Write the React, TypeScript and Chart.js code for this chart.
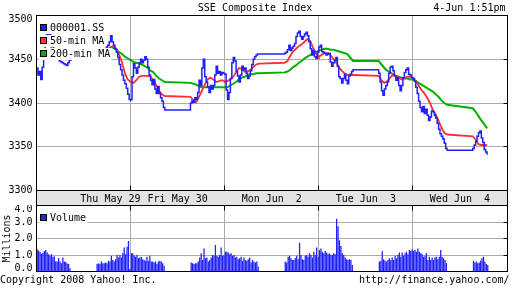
import React, { useEffect, useRef } from 'react';
import { Chart, registerables } from 'chart.js';

Chart.register(...registerables);

// ---------------- data ----------------
const chartTitle = 'SSE Composite Index';
const stampText = '4-Jun 1:51pm';
const copyrightText = 'Copyright 2008 Yahoo! Inc.';
const sourceText = 'http://finance.yahoo.com/';
const seriesName = '000001.SS';
const ma50Name = '50-min MA';
const ma200Name = '200-min MA';
const volumeName = 'Volume';
const volumeAxisTitle = 'Millions';

const dayLabels = ['Thu May 29', 'Fri May 30', 'Mon Jun  2', 'Tue Jun  3', 'Wed Jun  4'];
// hours since Thu 9:30 (each trading day = 9:30..15:00 = 5.5 h, lunch 11:30-13:00 kept)
const dayLabelHours = [4.32, 8.25, 13.75, 19.25, 24.75];
const dayBoundaryHours = [0, 5.5, 11, 16.5, 22, 27.5];
const priceTicks = [3300, 3350, 3400, 3450, 3500];
const volumeTicks = [0, 1, 2, 3, 4];

// 5-minute index level: 9:30..11:30 (25) then 13:00..15:00 (25)
const priceThu = [
  3440, 3432, 3436, 3427, 3441, 3458, 3472, 3480, 3478, 3481, 3474, 3466, 3460, 3455, 3452, 3450, 3448, 3447, 3446, 3445, 3444, 3443, 3446, 3449, 3451,
  3451, 3452, 3455, 3453, 3458, 3461, 3459, 3464, 3466, 3470, 3477, 3470, 3466, 3462, 3458, 3452, 3444, 3438, 3432, 3426, 3422, 3417, 3410, 3404, 3402,
];
const priceFri = [
  3404, 3430, 3445, 3440, 3434, 3441, 3446, 3450, 3446, 3449, 3453, 3450, 3441, 3432, 3426, 3421, 3427, 3416, 3411, 3419, 3411, 3406, 3402, 3395, 3392,
  3400, 3403, 3401, 3406, 3404, 3412, 3426, 3420, 3440, 3450, 3430, 3424, 3418, 3412, 3420, 3416, 3420, 3432, 3442, 3434, 3436, 3432, 3435, 3434, 3434,
];
const priceMon = [
  3433, 3415, 3404, 3412, 3428, 3446, 3452, 3448, 3436, 3431, 3424, 3432, 3442, 3438, 3440, 3434, 3428, 3431, 3437, 3444, 3450, 3453, 3455, 3456, 3456,
  3457, 3458, 3461, 3466, 3460, 3463, 3465, 3468, 3476, 3480, 3482, 3476, 3473, 3476, 3479, 3481, 3477, 3470, 3462, 3455, 3460, 3453, 3451, 3458, 3463,
];
const priceTue = [
  3464, 3466, 3459, 3458, 3457, 3455, 3456, 3457, 3447, 3442, 3446, 3449, 3452, 3442, 3430, 3428, 3423, 3428, 3433, 3426, 3422, 3431, 3433, 3436, 3438,
  3434, 3424, 3414, 3409, 3416, 3420, 3424, 3434, 3441, 3442, 3437, 3431, 3426, 3429, 3420, 3414, 3420, 3429, 3435, 3438, 3440, 3433, 3432, 3429, 3428,
];
const priceWed = [
  3428, 3425, 3418, 3411, 3402, 3395, 3390, 3396, 3388, 3393, 3386, 3380, 3384, 3391, 3390, 3386, 3383, 3377, 3370, 3365, 3362, 3359, 3354, 3348, 3346,
  3348, 3352, 3356, 3362, 3366, 3368, 3360, 3355, 3347, 3344, 3341,
];

// 10-minute moving averages: 9:30..11:30 (13) then 13:00..15:00 (13)
const ma50Thu = [
  null, null, null, null, null, 3465, 3460, 3455, 3452, 3451, 3450, 3450, 3451,
  3451, 3452, 3455, 3458, 3461, 3464, 3465, 3462, 3455, 3446, 3434, 3427, 3424,
];
const ma50Fri = [
  3424, 3423, 3426, 3430, 3431, 3431, 3431, 3430, 3426, 3420, 3414, 3410, 3408,
  3407, 3403, 3401, 3407, 3414, 3421, 3427, 3429, 3427, 3424, 3425, 3426, 3425,
];
const ma50Mon = [
  3424, 3425, 3427, 3430, 3435, 3440, 3439, 3436, 3436, 3438, 3441, 3444, 3445,
  3446, 3448, 3454, 3459, 3462, 3465, 3467, 3470, 3473, 3471, 3463, 3457, 3452,
];
const ma50Tue = [
  3453, 3455, 3457, 3457, 3455, 3451, 3447, 3441, 3437, 3434, 3432, 3432, 3432,
  3431, 3426, 3423, 3425, 3429, 3432, 3431, 3430, 3427, 3428, 3430, 3430, 3429,
];
const ma50Wed = [
  3429, 3425, 3420, 3415, 3411, 3406, 3400, 3392, 3387, 3380, 3372, 3366, 3364,
  3362, 3358, 3353, 3352, 3352, 3352,
];

const ma200Thu = [
  null, null, null, null, null, null, null, null, null, null, null, null, null,
  null, null, null, null, null, 3464, 3463, 3461, 3458, 3456, 3453, 3451, 3449,
];
const ma200Fri = [
  3449, 3447, 3446, 3445, 3444, 3442, 3440, 3437, 3435, 3431, 3428, 3426, 3424,
  3423, 3422, 3421, 3419, 3418, 3418, 3418, 3418, 3418, 3418, 3418, 3418, 3418,
];
const ma200Mon = [
  3418, 3418, 3420, 3422, 3424, 3427, 3429, 3430, 3432, 3433, 3433, 3434, 3434,
  3435, 3436, 3438, 3441, 3443, 3446, 3448, 3451, 3453, 3455, 3456, 3458, 3460,
];
const ma200Tue = [
  3460, 3461, 3462, 3462, 3461, 3461, 3460, 3459, 3458, 3457, 3456, 3452, 3448,
  3448, 3444, 3440, 3437, 3435, 3433, 3431, 3430, 3429, 3428, 3428, 3427, 3427,
];
const ma200Wed = [
  3427, 3425, 3423, 3421, 3419, 3417, 3415, 3413, 3410, 3407, 3403, 3400, 3398,
  3394, 3390, 3385, 3380, 3376, 3371,
];

// 5-minute volume (millions): 24 morning bars, 24 afternoon bars
const volThu = [
  1.35, 1.28, 1.18, 1.08, 1.12, 1.25, 1.3, 1.15, 1.05, 0.95, 1.05, 0.88, 0.92, 0.62, 0.6, 0.82, 0.6, 0.5, 0.85, 0.6, 0.58, 0.48, 0.45, 0.2,
  0.45, 0.5, 0.45, 0.6, 0.5, 0.5, 0.55, 0.5, 0.65, 0.6, 0.95, 0.7, 0.6, 0.75, 1.0, 0.85, 1.0, 0.85, 1.1, 1.45, 1.05, 1.5, 1.85, 0.15,
];
const volFri = [
  1.1, 1.1, 0.95, 0.9, 1.0, 0.8, 0.85, 0.9, 0.75, 0.7, 0.65, 0.9, 0.65, 0.95, 0.6, 0.6, 0.55, 0.6, 0.45, 0.6, 0.65, 0.6, 0.5, 0.35,
  0.55, 0.5, 0.45, 0.5, 0.5, 0.6, 0.85, 1.1, 0.7, 1.4, 0.8, 0.85, 0.6, 0.7, 0.85, 1.0, 0.95, 1.6, 0.95, 0.9, 1.0, 1.45, 0.95, 1.0,
];
const volMon = [
  1.2, 1.2, 1.15, 1.05, 1.1, 0.95, 1.0, 0.85, 0.9, 0.75, 0.8, 0.9, 0.65, 0.85, 0.7, 0.65, 0.75, 0.85, 0.55, 0.7, 0.6, 0.55, 0.6, 0.3,
  0.6, 0.55, 0.9, 0.95, 0.8, 0.7, 0.7, 0.8, 0.95, 0.75, 1.75, 1.0, 0.75, 0.7, 0.95, 1.0, 0.9, 1.1, 1.0, 0.85, 1.2, 1.0, 1.45, 0.9,
];
const volTue = [
  1.3, 1.4, 1.2, 1.1, 1.25, 1.15, 1.05, 1.1, 1.0, 1.0, 1.1, 1.05, 3.2, 2.75, 1.9, 1.55, 1.1, 1.0, 0.85, 0.75, 0.7, 0.75, 0.7, 0.4,
  0.6, 0.65, 1.25, 0.75, 0.65, 0.6, 0.7, 0.8, 0.7, 0.85, 0.7, 0.95, 0.8, 1.0, 1.15, 0.9, 1.15, 0.95, 1.1, 1.2, 1.05, 1.3, 1.25, 1.35,
];
const volWed = [
  1.25, 1.3, 1.2, 1.4, 1.2, 1.1, 1.05, 0.9, 0.95, 1.1, 0.7, 0.9, 0.7, 0.85, 0.7, 0.85, 0.9, 0.75, 0.9, 1.3, 0.9, 0.8, 0.7, 0.5,
  0.65, 0.55, 0.6, 0.5, 0.55, 0.65, 0.8, 0.9, 0.6, 0.45, 0.4,
];

// ---------------- helpers ----------------
const DAY_HOURS = 5.5; // 9:30 -> 15:00
const PM_START = 3.5; // 13:00 - 9:30

function toPoints(days: (number | null)[][], stepMinutes: number, amCount: number, shift = 0) {
  const out: { x: number; y: number | null }[] = [];
  days.forEach((vals, d) => {
    vals.forEach((v, j) => {
      const pm = j >= amCount;
      const k = pm ? j - amCount : j;
      out.push({ x: d * DAY_HOURS + (pm ? PM_START : 0) + ((k + shift) * stepMinutes) / 60, y: v });
    });
  });
  return out;
}

const BLUE = '#2020ff';
const RED = '#ff3030';
const GREEN = '#00b000';
const GRID = '#ababab';
const BAND = '#e3e3e3';
const MONO = '"DejaVu Sans Mono", monospace';
const FONT = '10px ' + MONO;

const align = (p: number) => Math.round(p - 0.5) + 0.5;

function framePlugin(tickSide: 'top' | 'bottom') {
  return {
    id: 'frame' + tickSide,
    afterDraw(chart: any) {
      const { ctx, chartArea: a, scales } = chart;
      const l = align(a.left), r = align(a.right), t = align(a.top), b = align(a.bottom);
      ctx.save();
      ctx.strokeStyle = '#000';
      ctx.lineWidth = 1;
      ctx.strokeRect(l, t, r - l, b - t);
      ctx.beginPath();
      for (const h of dayBoundaryHours) {
        const px = align(scales.x.getPixelForValue(h));
        if (tickSide === 'bottom') {
          ctx.moveTo(px, b);
          ctx.lineTo(px, b - 5);
        } else {
          ctx.moveTo(px, t);
          ctx.lineTo(px, t + 5);
        }
      }
      for (const tk of scales.y.ticks) {
        const py = align(scales.y.getPixelForValue(tk.value));
        ctx.moveTo(r - 4, py);
        ctx.lineTo(r, py);
      }
      ctx.stroke();
      ctx.restore();
    },
  };
}

const bandPlugin = {
  id: 'dateBand',
  beforeDraw(chart: any) {
    const { ctx, chartArea: a } = chart;
    const l = align(a.left), r = align(a.right), b = align(a.bottom);
    ctx.save();
    ctx.fillStyle = BAND;
    ctx.fillRect(l, b, r - l, chart.height - b);
    ctx.strokeStyle = '#000';
    ctx.lineWidth = 1;
    ctx.beginPath();
    ctx.moveTo(l, b);
    ctx.lineTo(l, chart.height);
    ctx.moveTo(r, b);
    ctx.lineTo(r, chart.height);
    ctx.stroke();
    ctx.restore();
  },
};

function legendPlugin(items: { label: string; color: string }[], firstY: number, stepY: number) {
  return {
    id: 'boxLegend',
    afterDatasetsDraw(chart: any) {
      const { ctx, chartArea: a } = chart;
      ctx.save();
      ctx.font = FONT;
      ctx.textBaseline = 'middle';
      ctx.textAlign = 'left';
      items.forEach((it, i) => {
        const cy = Math.round(a.top + firstY + i * stepY);
        const bx = Math.round(a.left + 3.5);
        const tx = bx + 10;
        const w = ctx.measureText(it.label).width;
        ctx.fillStyle = '#fff';
        ctx.fillRect(bx - 1, cy - 6, tx + w + 1 - (bx - 1), 12);
        ctx.fillStyle = '#000';
        ctx.fillRect(bx, cy - 4, 7, 7);
        ctx.fillStyle = it.color;
        ctx.fillRect(bx + 1, cy - 3, 5, 5);
        ctx.fillStyle = '#000';
        ctx.fillText(it.label, tx, cy);
      });
      ctx.restore();
    },
  };
}

const headerPlugin = {
  id: 'header',
  afterDraw(chart: any) {
    const { ctx } = chart;
    ctx.save();
    ctx.font = FONT;
    ctx.fillStyle = '#000';
    ctx.textBaseline = 'alphabetic';
    ctx.textAlign = 'center';
    ctx.fillText(chartTitle, 255, 10.5);
    ctx.textAlign = 'right';
    ctx.fillText(stampText, 505.5, 10.5);
    ctx.restore();
  },
};

const footerPlugin = {
  id: 'footer',
  afterDraw(chart: any) {
    const { ctx } = chart;
    ctx.save();
    ctx.font = FONT;
    ctx.fillStyle = '#000';
    ctx.textBaseline = 'alphabetic';
    ctx.textAlign = 'left';
    ctx.fillText(copyrightText, 0, 78);
    ctx.textAlign = 'right';
    ctx.fillText(sourceText, 509.5, 78);
    ctx.restore();
  },
};

const allTicks = [...dayBoundaryHours, ...dayLabelHours];

export default function App() {
  const priceRef = useRef<HTMLCanvasElement | null>(null);
  const volRef = useRef<HTMLCanvasElement | null>(null);

  useEffect(() => {
    const pricePts = toPoints([priceThu, priceFri, priceMon, priceTue, priceWed], 5, 25);
    const ma50Pts = toPoints([ma50Thu, ma50Fri, ma50Mon, ma50Tue, ma50Wed], 10, 13);
    const ma200Pts = toPoints([ma200Thu, ma200Fri, ma200Mon, ma200Tue, ma200Wed], 10, 13);
    const volPts = toPoints([volThu, volFri, volMon, volTue, volWed], 5, 24, 0.5);

    const priceChart = new Chart(priceRef.current as HTMLCanvasElement, {
      type: 'line',
      data: {
        datasets: [
          { label: seriesName, data: pricePts as any, borderColor: BLUE, borderWidth: 1.5, pointRadius: 0, stepped: 'before', fill: false },
          { label: ma50Name, data: ma50Pts as any, borderColor: RED, borderWidth: 1.8, pointRadius: 0, fill: false },
          { label: ma200Name, data: ma200Pts as any, borderColor: GREEN, borderWidth: 2, pointRadius: 0, fill: false },
        ],
      },
      options: {
        animation: false,
        responsive: false,
        devicePixelRatio: 1,
        layout: { padding: { top: 15.5, right: 5, left: 0, bottom: 0 } },
        plugins: { legend: { display: false }, tooltip: { enabled: false }, title: { display: false } },
        elements: { line: { tension: 0 } },
        scales: {
          x: {
            type: 'linear',
            min: 0,
            max: 27.5,
            offset: false,
            afterBuildTicks: (s: any) => {
              s.ticks = allTicks.map((v) => ({ value: v }));
            },
            afterFit: (s: any) => {
              s.height = 14.5;
              s.paddingLeft = 0;
              s.paddingRight = 0;
            },
            grid: {
              color: (c: any) => (dayBoundaryHours.includes(c.tick?.value) ? GRID : 'rgba(0,0,0,0)'),
              lineWidth: 1,
              drawTicks: false,
            },
            border: { display: false },
            ticks: {
              autoSkip: false,
              maxRotation: 0,
              minRotation: 0,
              padding: 3,
              color: '#000',
              font: { family: MONO, size: 10 },
              callback: (v: any) => {
                const i = dayLabelHours.indexOf(Number(v));
                return i >= 0 ? dayLabels[i] : '';
              },
            },
          },
          y: {
            type: 'linear',
            min: 3300,
            max: 3500,
            afterBuildTicks: (s: any) => {
              s.ticks = priceTicks.map((v) => ({ value: v }));
            },
            afterFit: (s: any) => {
              s.width = 36.5;
              s.paddingTop = 0;
              s.paddingBottom = 0;
            },
            grid: { color: GRID, lineWidth: 1, drawTicks: false },
            border: { display: false },
            ticks: {
              autoSkip: false,
              padding: 4,
              color: '#000',
              font: (c: any) => ({ family: MONO, size: 10, lineHeight: c.index === priceTicks.length - 1 ? 0.8 : 1.2 }),
              callback: (v: any, i: number) => (i === priceTicks.length - 1 ? ['', String(v)] : String(v)),
            },
          },
        },
      } as any,
      plugins: [
        bandPlugin,
        legendPlugin(
          [
            { label: seriesName, color: BLUE },
            { label: ma50Name, color: RED },
            { label: ma200Name, color: GREEN },
          ],
          12,
          13.3
        ),
        framePlugin('bottom'),
        headerPlugin,
      ],
    });

    const volChart = new Chart(volRef.current as HTMLCanvasElement, {
      type: 'bar',
      data: {
        datasets: [
          {
            label: volumeName,
            data: volPts as any,
            backgroundColor: BLUE,
            borderWidth: 0,
            barPercentage: 0.9,
            categoryPercentage: 1,
          },
        ],
      },
      options: {
        animation: false,
        responsive: false,
        devicePixelRatio: 1,
        layout: { padding: { top: 0.5, right: 5, left: 0, bottom: 0 } },
        plugins: { legend: { display: false }, tooltip: { enabled: false }, title: { display: false } },
        scales: {
          x: {
            type: 'linear',
            min: 0,
            max: 27.5,
            offset: false,
            afterBuildTicks: (s: any) => {
              s.ticks = dayBoundaryHours.map((v) => ({ value: v }));
            },
            afterFit: (s: any) => {
              s.height = 16.5;
              s.paddingLeft = 0;
              s.paddingRight = 0;
            },
            grid: { color: GRID, lineWidth: 1, drawTicks: false, offset: false },
            border: { display: false },
            ticks: { display: false },
          },
          y: {
            type: 'linear',
            min: 0,
            max: 4,
            afterBuildTicks: (s: any) => {
              s.ticks = volumeTicks.map((v) => ({ value: v }));
            },
            afterFit: (s: any) => {
              s.width = 36.5;
              s.paddingTop = 0;
              s.paddingBottom = 0;
            },
            title: {
              display: true,
              text: volumeAxisTitle,
              color: '#000',
              font: { family: MONO, size: 10, lineHeight: 1.5 },
              padding: 0,
            },
            grid: { color: GRID, lineWidth: 1, drawTicks: false },
            border: { display: false },
            ticks: {
              autoSkip: false,
              padding: 4,
              color: '#000',
              font: (c: any) => ({
                family: MONO,
                size: 10,
                lineHeight: c.index === volumeTicks.length - 1 ? 0.8 : c.index === 0 ? 0.6 : 1.2,
              }),
              callback: (v: any, i: number) => {
                const s = Number(v).toFixed(1);
                if (i === volumeTicks.length - 1) return ['', s];
                if (i === 0) return [s, ''];
                return s;
              },
            },
          },
        },
      } as any,
      plugins: [legendPlugin([{ label: volumeName, color: BLUE }], 12.5, 13), framePlugin('top'), footerPlugin],
    });

    return () => {
      priceChart.destroy();
      volChart.destroy();
    };
  }, []);

  return (
    <div style={{ position: 'fixed', left: 0, top: 0, width: 512, height: 288, background: '#fff', overflow: 'hidden' }}>
      <canvas
        ref={priceRef}
        width={512}
        height={205}
        style={{ position: 'absolute', left: 0, top: 0, width: 512, height: 205 }}
      />
      <canvas
        ref={volRef}
        width={512}
        height={83}
        style={{ position: 'absolute', left: 0, top: 205, width: 512, height: 83 }}
      />
    </div>
  );
}
